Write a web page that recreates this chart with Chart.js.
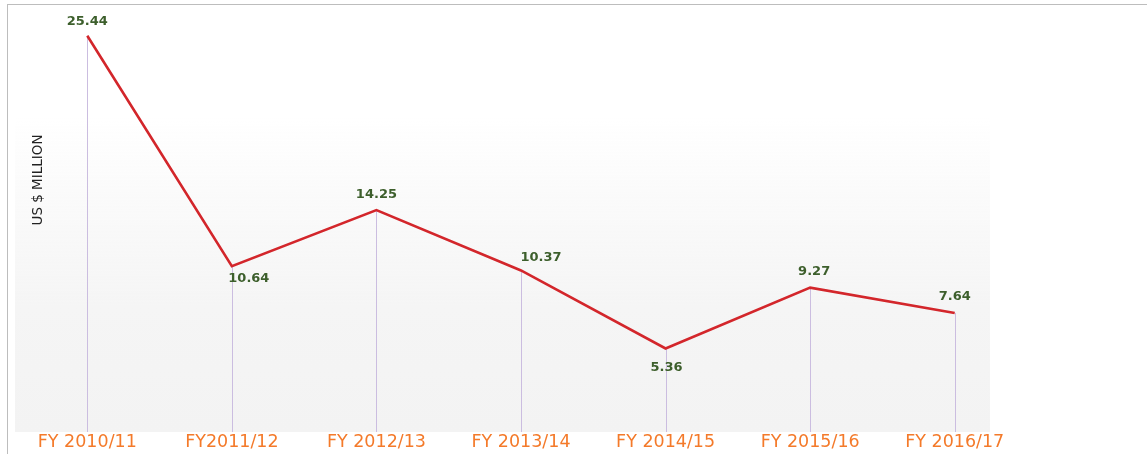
<!DOCTYPE html>
<html lang="en">
<head>
  <meta charset="UTF-8">
  <title>US $ Million by financial year</title>
  <style>
    body { margin: 0; background: #fff; }
    .frame { position: relative; width: 1147px; height: 454px; }
    .frame::before { content: ''; position: absolute; left: 7px; top: 4px; right: 0; bottom: 0;
      border-top: 1px solid #bdbdbd; border-left: 1px solid #bdbdbd; pointer-events: none; }
  </style>
</head>
<body>
  <div class="frame">
    <canvas id="chart"></canvas>
  </div>

  <script src="https://cdn.jsdelivr.net/npm/chart.js"></script>
  <script>
    const years = ['FY 2010/11', 'FY2011/12', 'FY 2012/13', 'FY 2013/14', 'FY 2014/15', 'FY 2015/16', 'FY 2016/17'];
    const values = [25.44, 10.64, 14.25, 10.37, 5.36, 9.27, 7.64];
    const axisTitle = 'US $ MILLION';

    // where each value label sits relative to its point
    const labelSpots = [
      { dx: 0, dy: -14 }, { dx: 17, dy: 12 }, { dx: 0, dy: -15 }, { dx: 20, dy: -13 },
      { dx: 1, dy: 19 }, { dx: 4, dy: -16 }, { dx: 0, dy: -16 }
    ];

    // light panel behind the plot, purple drop lines, y title
    const decor = {
      id: 'decor',
      beforeDatasetsDraw(chart) {
        const { ctx, chartArea } = chart;
        const top = 118, right = 990;
        const g = ctx.createLinearGradient(0, top, 0, chartArea.bottom);
        g.addColorStop(0, 'rgba(244,244,244,0)');
        g.addColorStop(0.6, '#f5f5f5');
        g.addColorStop(1, '#f3f3f3');
        ctx.save();
        ctx.fillStyle = g;
        ctx.fillRect(chartArea.left, top, right - chartArea.left, chartArea.bottom - top);

        ctx.strokeStyle = '#cbbde0';
        ctx.lineWidth = 1;
        chart.getDatasetMeta(0).data.forEach(p => {
          const x = Math.round(p.x) + 0.5;
          ctx.beginPath();
          ctx.moveTo(x, p.y);
          ctx.lineTo(x, chartArea.bottom);
          ctx.stroke();
        });

        ctx.translate(38, 180);
        ctx.rotate(-Math.PI / 2);
        ctx.fillStyle = '#222';
        ctx.font = '13.5px "DejaVu Sans", sans-serif';
        ctx.textAlign = 'center';
        ctx.textBaseline = 'middle';
        ctx.fillText(axisTitle, 0, 0);
        ctx.restore();
      },
      afterDatasetsDraw(chart) {
        const { ctx } = chart;
        ctx.save();
        ctx.fillStyle = '#3d5f2c';
        ctx.font = 'bold 13px "DejaVu Sans", sans-serif';
        ctx.textAlign = 'center';
        ctx.textBaseline = 'middle';
        chart.getDatasetMeta(0).data.forEach((p, i) => {
          const s = labelSpots[i];
          ctx.fillText(values[i].toFixed(2), p.x + s.dx, p.y + s.dy);
        });
        ctx.restore();
      }
    };

    new Chart(document.getElementById('chart'), {
      type: 'line',
      data: {
        labels: years,
        datasets: [{
          data: values,
          borderColor: '#d3262b',
          borderWidth: 2.6,
          pointRadius: 0,
          tension: 0,
          fill: false
        }]
      },
      options: {
        responsive: true,
        maintainAspectRatio: false,
        animation: false,
        layout: { padding: { left: 15, right: 120, top: 27, bottom: 0 } },
        plugins: { legend: { display: false }, tooltip: { enabled: false } },
        scales: {
          x: {
            offset: true,
            grid: { display: false, drawTicks: false },
            border: { display: false },
            ticks: {
              color: '#f47a2a',
              padding: 0,
              maxRotation: 0,
              autoSkip: false,
              font: { family: '"DejaVu Sans", sans-serif', size: 17.5 }
            },
            afterFit(scale) { scale.height = 22; }
          },
          y: {
            display: false,
            min: 0,
            max: 26
          }
        }
      },
      plugins: [decor]
    });
  </script>
</body>
</html>
